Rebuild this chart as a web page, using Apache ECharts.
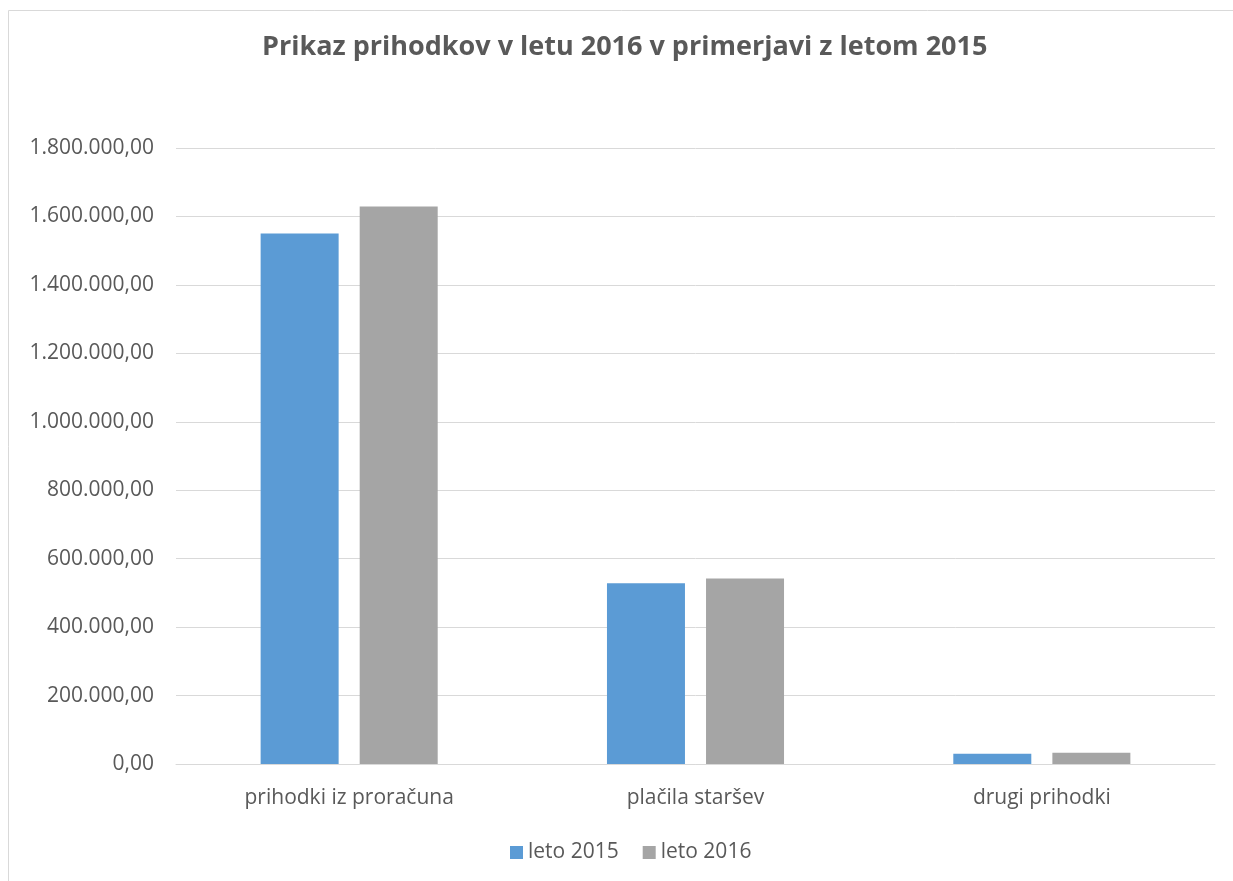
<!DOCTYPE html>
<html>
<head>
<meta charset="utf-8">
<script src="https://cdn.jsdelivr.net/npm/echarts@6/dist/echarts.min.js"></script>
<style>
  html, body { margin: 0; padding: 0; background: #fff; }
  #chart { width: 1233px; height: 881px; }
</style>
</head>
<body>
<div id="chart"></div>
<script>
// podatki
var categories = ['prihodki iz proračuna', 'plačila staršev', 'drugi prihodki'];
var leto2015 = [1550000, 528000, 30000];
var leto2016 = [1629000, 542000, 33000];
var seriesNames = ['leto 2015', 'leto 2016'];

function fmt(v) {
    var s = Math.round(v).toString().replace(/\B(?=(\d{3})+(?!\d))/g, '.');
    return s + ',00';
}

var myChart = echarts.init(document.getElementById('chart'));
var txt = '#595959';
var font = '"Open Sans", sans-serif';

myChart.setOption({
    animation: false,
    textStyle: { fontFamily: font },
    title: {
        text: 'Prikaz prihodkov v letu 2016 v primerjavi z letom 2015',
        left: 262,
        top: 34,
        padding: 0,
        textStyle: { fontSize: 27, fontWeight: 'bold', color: txt, fontFamily: font }
    },
    graphic: [{
        type: 'rect',
        shape: { x: 8.5, y: 10.5, width: 1260, height: 900 },
        style: { fill: 'none', stroke: '#d9d9d9', lineWidth: 1 },
        silent: true
    }],
    legend: {
        data: seriesNames,
        bottom: 13,
        left: 505,
        icon: 'rect',
        itemWidth: 13,
        itemHeight: 13,
        itemGap: 24,
        textStyle: { fontSize: 21, color: txt, fontFamily: font }
    },
    grid: { left: 176, right: 18, top: 148, bottom: 117, containLabel: false },
    xAxis: {
        type: 'category',
        data: categories,
        axisLine: { lineStyle: { color: '#d9d9d9' } },
        axisTick: { show: false },
        axisLabel: { fontSize: 21, color: txt, margin: 24, fontFamily: font }
    },
    yAxis: {
        type: 'value',
        min: 0,
        max: 1800000,
        interval: 200000,
        axisLine: { show: false },
        axisTick: { show: false },
        splitLine: { lineStyle: { color: '#d9d9d9' } },
        axisLabel: { fontSize: 21, color: txt, margin: 22, fontFamily: font, formatter: fmt }
    },
    series: [
        {
            name: 'leto 2015',
            type: 'bar',
            data: leto2015,
            barWidth: 78,
            barGap: '27%',
            itemStyle: { color: '#5b9bd5' }
        },
        {
            name: 'leto 2016',
            type: 'bar',
            data: leto2016,
            barWidth: 78,
            itemStyle: { color: '#a5a5a5' }
        }
    ]
});
</script>
</body>
</html>
